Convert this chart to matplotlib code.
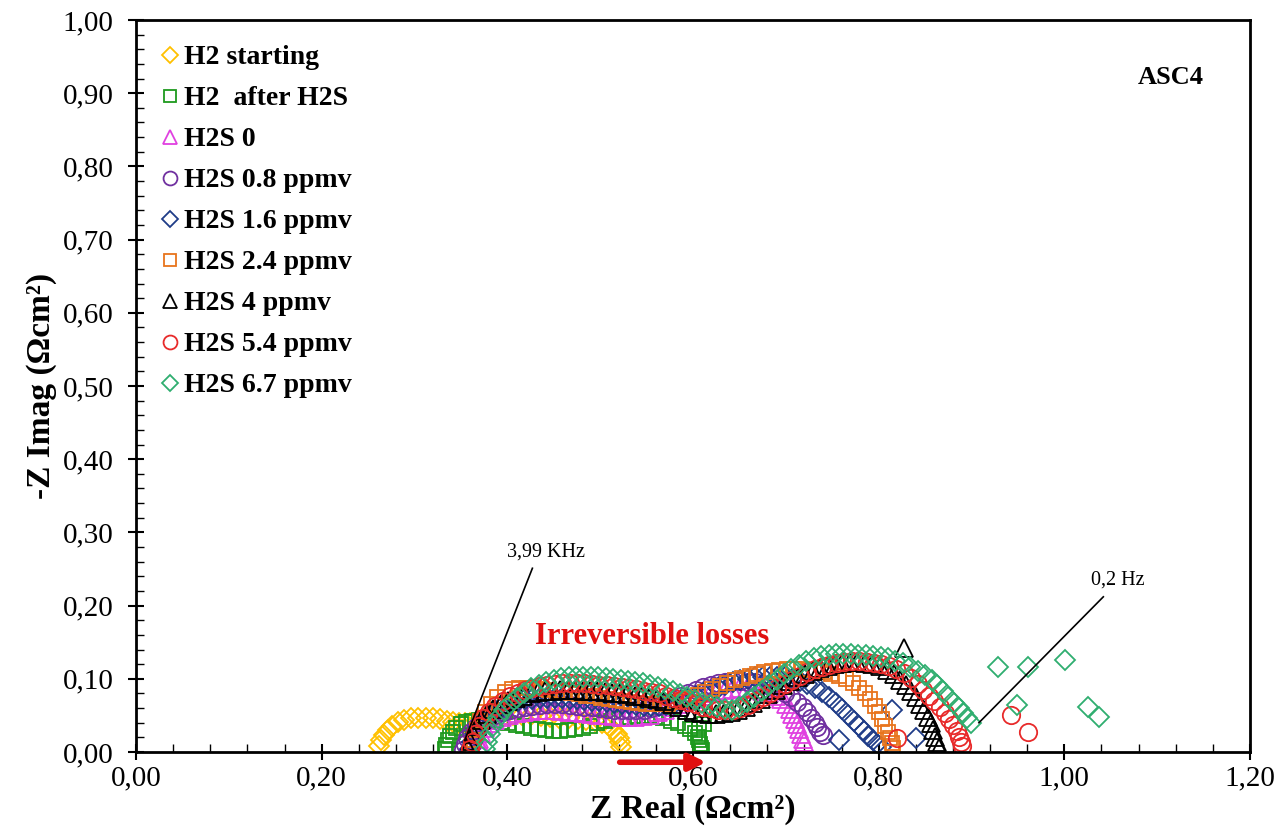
import matplotlib
matplotlib.use("Agg")
import matplotlib.pyplot as plt

plt.rcParams['font.family'] = ['Liberation Serif', 'DejaVu Serif']

# H2 starting
h2_start_x = [0.262, 0.264, 0.267, 0.271, 0.276, 0.282, 0.289, 0.296, 0.304, 0.312, 0.320, 0.328, 0.335, 0.342,
              0.348, 0.354, 0.360, 0.368, 0.377, 0.386, 0.396, 0.406, 0.416, 0.426, 0.436, 0.446, 0.456, 0.466,
              0.476, 0.485, 0.494, 0.502, 0.509, 0.514, 0.518, 0.520, 0.521, 0.522]
h2_start_y = [0.008, 0.016, 0.023, 0.030, 0.036, 0.041, 0.044, 0.046, 0.047, 0.047, 0.046, 0.045, 0.043, 0.041,
              0.040, 0.039, 0.040, 0.042, 0.045, 0.047, 0.049, 0.050, 0.050, 0.050, 0.049, 0.048, 0.047, 0.046,
              0.045, 0.044, 0.042, 0.039, 0.035, 0.030, 0.025, 0.019, 0.013, 0.007]

# H2 after H2S
h2_after_x = [0.333, 0.334, 0.336, 0.338, 0.341, 0.345, 0.350, 0.356, 0.362, 0.369, 0.377, 0.385, 0.393, 0.401,
              0.409, 0.417, 0.425, 0.433, 0.441, 0.449, 0.457, 0.465, 0.473, 0.481, 0.489, 0.497, 0.505, 0.514,
              0.523, 0.532, 0.541, 0.550, 0.559, 0.568, 0.576, 0.584, 0.591, 0.597, 0.602, 0.605, 0.607, 0.608,
              0.609, 0.610, 0.606, 0.612]
h2_after_y = [0.004, 0.010, 0.016, 0.022, 0.028, 0.033, 0.038, 0.041, 0.043, 0.044, 0.044, 0.043, 0.041, 0.039,
              0.037, 0.035, 0.033, 0.031, 0.030, 0.029, 0.029, 0.030, 0.031, 0.033, 0.036, 0.039, 0.042, 0.045,
              0.047, 0.048, 0.049, 0.049, 0.048, 0.046, 0.043, 0.040, 0.036, 0.031, 0.026, 0.021, 0.016, 0.011,
              0.006, 0.003, 0.033, 0.038]

# H2S 0
h2s_0_x = [0.373, 0.371, 0.370, 0.372, 0.376, 0.381, 0.387, 0.394, 0.402, 0.410, 0.418, 0.426, 0.434, 0.442,
           0.450, 0.458, 0.466, 0.474, 0.482, 0.490, 0.498, 0.506, 0.514, 0.522, 0.530, 0.538, 0.546, 0.554,
           0.562, 0.570, 0.578, 0.586, 0.594, 0.602, 0.610, 0.618, 0.626, 0.634, 0.642, 0.650, 0.658, 0.666,
           0.674, 0.682, 0.689, 0.695, 0.700, 0.704, 0.707, 0.710, 0.712, 0.714, 0.716, 0.718, 0.720]
h2s_0_y = [0.002, 0.010, 0.018, 0.026, 0.033, 0.039, 0.044, 0.048, 0.051, 0.053, 0.055, 0.056, 0.057, 0.057,
           0.057, 0.056, 0.055, 0.054, 0.053, 0.052, 0.051, 0.050, 0.049, 0.048, 0.048, 0.048, 0.049, 0.051,
           0.054, 0.057, 0.061, 0.065, 0.069, 0.073, 0.077, 0.080, 0.083, 0.085, 0.086, 0.087, 0.087, 0.086,
           0.084, 0.081, 0.077, 0.072, 0.066, 0.059, 0.052, 0.045, 0.038, 0.031, 0.024, 0.018, 0.013]

# H2S 0.8 ppmv
h2s_08_x = [0.352, 0.354, 0.357, 0.361, 0.366, 0.372, 0.379, 0.387, 0.395, 0.403, 0.411, 0.419, 0.427, 0.435,
            0.443, 0.451, 0.459, 0.467, 0.475, 0.483, 0.491, 0.499, 0.507, 0.515, 0.523, 0.531, 0.539, 0.547,
            0.555, 0.563, 0.571, 0.579, 0.587, 0.595, 0.603, 0.611, 0.619, 0.627, 0.635, 0.643, 0.651, 0.659,
            0.667, 0.675, 0.683, 0.691, 0.699, 0.706, 0.712, 0.718, 0.723, 0.727, 0.731, 0.734, 0.737, 0.740]
h2s_08_y = [0.003, 0.011, 0.019, 0.027, 0.034, 0.040, 0.045, 0.050, 0.054, 0.057, 0.060, 0.062, 0.063, 0.064,
            0.065, 0.065, 0.065, 0.064, 0.063, 0.062, 0.061, 0.060, 0.059, 0.058, 0.057, 0.057, 0.057, 0.058,
            0.060, 0.063, 0.067, 0.071, 0.076, 0.081, 0.085, 0.089, 0.092, 0.094, 0.096, 0.097, 0.097, 0.096,
            0.095, 0.093, 0.090, 0.086, 0.081, 0.075, 0.068, 0.061, 0.054, 0.047, 0.040, 0.034, 0.028, 0.023]

# H2S 1.6 ppmv
h2s_16_x = [0.360, 0.362, 0.365, 0.369, 0.374, 0.380, 0.387, 0.395, 0.403, 0.411, 0.419, 0.427, 0.435, 0.443,
            0.451, 0.459, 0.467, 0.475, 0.483, 0.491, 0.499, 0.507, 0.515, 0.523, 0.531, 0.539, 0.547, 0.555,
            0.563, 0.571, 0.579, 0.587, 0.595, 0.603, 0.611, 0.619, 0.627, 0.635, 0.643, 0.651, 0.659, 0.667,
            0.675, 0.683, 0.691, 0.699, 0.707, 0.715, 0.723, 0.731, 0.739, 0.747, 0.754, 0.761, 0.767, 0.773,
            0.779, 0.784, 0.789, 0.794, 0.798, 0.802, 0.757, 0.814, 0.840]
h2s_16_y = [0.004, 0.014, 0.024, 0.034, 0.043, 0.051, 0.058, 0.063, 0.067, 0.070, 0.072, 0.073, 0.074, 0.074,
            0.074, 0.074, 0.073, 0.072, 0.071, 0.070, 0.069, 0.068, 0.067, 0.066, 0.065, 0.064, 0.063, 0.063,
            0.063, 0.064, 0.066, 0.069, 0.072, 0.076, 0.080, 0.084, 0.088, 0.092, 0.095, 0.098, 0.100, 0.102,
            0.103, 0.103, 0.103, 0.102, 0.100, 0.097, 0.093, 0.088, 0.082, 0.075, 0.067, 0.059, 0.051, 0.043,
            0.036, 0.029, 0.022, 0.016, 0.011, 0.007, 0.016, 0.058, 0.019]

# H2S 2.4 ppmv
h2s_24_x = [0.362, 0.364, 0.367, 0.371, 0.376, 0.382, 0.389, 0.397, 0.405, 0.413, 0.421, 0.429, 0.437, 0.445,
            0.453, 0.461, 0.469, 0.477, 0.485, 0.493, 0.501, 0.509, 0.517, 0.525, 0.533, 0.541, 0.549, 0.557,
            0.565, 0.573, 0.581, 0.589, 0.597, 0.605, 0.613, 0.621, 0.629, 0.637, 0.645, 0.653, 0.661, 0.669,
            0.677, 0.685, 0.693, 0.701, 0.709, 0.717, 0.725, 0.733, 0.741, 0.749, 0.757, 0.765, 0.772, 0.779,
            0.785, 0.791, 0.796, 0.800, 0.804, 0.807, 0.810, 0.812, 0.814, 0.815]
h2s_24_y = [0.005, 0.017, 0.030, 0.043, 0.055, 0.066, 0.075, 0.082, 0.086, 0.088, 0.088, 0.087, 0.086, 0.085,
            0.083, 0.082, 0.080, 0.079, 0.077, 0.076, 0.074, 0.073, 0.071, 0.070, 0.068, 0.067, 0.066, 0.065,
            0.065, 0.066, 0.068, 0.071, 0.074, 0.078, 0.082, 0.086, 0.090, 0.094, 0.098, 0.101, 0.104, 0.107,
            0.109, 0.111, 0.112, 0.113, 0.113, 0.113, 0.112, 0.111, 0.109, 0.107, 0.104, 0.100, 0.094, 0.087,
            0.080, 0.072, 0.063, 0.054, 0.045, 0.036, 0.027, 0.019, 0.012, 0.006]

# H2S 4 ppmv
h2s_4_x = [0.358, 0.360, 0.363, 0.367, 0.372, 0.378, 0.385, 0.393, 0.401, 0.409, 0.417, 0.425, 0.433, 0.441,
           0.449, 0.457, 0.465, 0.473, 0.481, 0.489, 0.497, 0.505, 0.513, 0.521, 0.529, 0.537, 0.545, 0.553,
           0.561, 0.569, 0.577, 0.585, 0.593, 0.601, 0.609, 0.617, 0.625, 0.633, 0.641, 0.649, 0.657, 0.665,
           0.673, 0.681, 0.689, 0.697, 0.705, 0.713, 0.721, 0.729, 0.737, 0.745, 0.753, 0.761, 0.769, 0.777,
           0.785, 0.793, 0.801, 0.809, 0.816, 0.823, 0.829, 0.835, 0.840, 0.845, 0.849, 0.853, 0.856, 0.859,
           0.861, 0.863, 0.865, 0.827]
h2s_4_y = [0.005, 0.015, 0.025, 0.035, 0.044, 0.052, 0.059, 0.065, 0.070, 0.074, 0.077, 0.080, 0.082, 0.083,
           0.084, 0.085, 0.085, 0.085, 0.084, 0.084, 0.083, 0.082, 0.081, 0.080, 0.079, 0.077, 0.076, 0.074,
           0.072, 0.069, 0.066, 0.062, 0.058, 0.055, 0.053, 0.052, 0.052, 0.053, 0.055, 0.058, 0.062, 0.067,
           0.073, 0.079, 0.085, 0.091, 0.097, 0.102, 0.107, 0.111, 0.115, 0.118, 0.120, 0.122, 0.123, 0.123,
           0.122, 0.120, 0.117, 0.112, 0.106, 0.099, 0.091, 0.083, 0.075, 0.066, 0.057, 0.048, 0.039, 0.030,
           0.021, 0.013, 0.006, 0.142]

# H2S 5.4 ppmv
h2s_54_x = [0.360, 0.362, 0.365, 0.369, 0.374, 0.380, 0.387, 0.395, 0.403, 0.411, 0.419, 0.427, 0.435, 0.443,
            0.451, 0.459, 0.467, 0.475, 0.483, 0.491, 0.499, 0.507, 0.515, 0.523, 0.531, 0.539, 0.547, 0.555,
            0.563, 0.571, 0.579, 0.587, 0.595, 0.603, 0.611, 0.619, 0.627, 0.635, 0.643, 0.651, 0.659, 0.667,
            0.675, 0.683, 0.691, 0.699, 0.707, 0.715, 0.723, 0.731, 0.739, 0.747, 0.755, 0.763, 0.771, 0.779,
            0.787, 0.795, 0.803, 0.811, 0.819, 0.827, 0.835, 0.842, 0.848, 0.854, 0.860, 0.866, 0.871, 0.876,
            0.880, 0.884, 0.887, 0.889, 0.890, 0.820, 0.943, 0.961]
h2s_54_y = [0.004, 0.014, 0.025, 0.036, 0.046, 0.055, 0.063, 0.070, 0.076, 0.081, 0.085, 0.088, 0.090, 0.092,
            0.093, 0.094, 0.094, 0.094, 0.094, 0.093, 0.092, 0.091, 0.090, 0.089, 0.088, 0.086, 0.084, 0.082,
            0.080, 0.077, 0.074, 0.071, 0.068, 0.065, 0.062, 0.060, 0.058, 0.057, 0.058, 0.060, 0.064, 0.069,
            0.075, 0.081, 0.087, 0.093, 0.099, 0.104, 0.109, 0.113, 0.116, 0.119, 0.121, 0.123, 0.124, 0.124,
            0.123, 0.122, 0.120, 0.117, 0.113, 0.108, 0.101, 0.093, 0.085, 0.077, 0.069, 0.061, 0.053, 0.045,
            0.037, 0.029, 0.021, 0.014, 0.008, 0.019, 0.050, 0.027]

# H2S 6.7 ppmv
h2s_67_x = [0.376, 0.378, 0.381, 0.385, 0.390, 0.396, 0.403, 0.410, 0.418, 0.426, 0.434, 0.442, 0.450, 0.458,
            0.466, 0.474, 0.482, 0.490, 0.498, 0.506, 0.514, 0.522, 0.530, 0.538, 0.546, 0.554, 0.562, 0.570,
            0.578, 0.586, 0.594, 0.602, 0.610, 0.618, 0.626, 0.634, 0.642, 0.650, 0.658, 0.666, 0.674, 0.682,
            0.690, 0.698, 0.706, 0.714, 0.722, 0.730, 0.738, 0.746, 0.754, 0.762, 0.770, 0.778, 0.786, 0.794,
            0.802, 0.810, 0.818, 0.826, 0.834, 0.842, 0.850, 0.857, 0.863, 0.869, 0.875, 0.881, 0.886, 0.891,
            0.895, 0.899, 0.929, 0.961, 1.001, 0.949, 1.026, 1.037]
h2s_67_y = [0.004, 0.014, 0.025, 0.036, 0.047, 0.057, 0.066, 0.074, 0.081, 0.087, 0.092, 0.096, 0.099, 0.101,
            0.102, 0.103, 0.103, 0.103, 0.102, 0.101, 0.100, 0.099, 0.097, 0.096, 0.094, 0.092, 0.089, 0.086,
            0.083, 0.079, 0.075, 0.071, 0.067, 0.064, 0.061, 0.059, 0.058, 0.062, 0.068, 0.075, 0.083, 0.091,
            0.099, 0.106, 0.113, 0.119, 0.124, 0.128, 0.131, 0.133, 0.134, 0.134, 0.134, 0.133, 0.132, 0.131,
            0.130, 0.128, 0.125, 0.121, 0.116, 0.111, 0.105, 0.098, 0.091, 0.083, 0.075, 0.067, 0.060, 0.053,
            0.046, 0.039, 0.116, 0.116, 0.126, 0.064, 0.062, 0.048]

labels = ["H2 starting", "H2  after H2S", "H2S 0", "H2S 0.8 ppmv", "H2S 1.6 ppmv",
          "H2S 2.4 ppmv", "H2S 4 ppmv", "H2S 5.4 ppmv", "H2S 6.7 ppmv"]
colors = ["#FFC000", "#1E9A1E", "#E040E0", "#7030A0", "#1F3C88",
          "#E8741C", "#000000", "#E82A2A", "#2FAE6F"]
markers = ["D", "s", "^", "o", "D", "s", "^", "o", "D"]

xticks = [0.0, 0.2, 0.4, 0.6, 0.8, 1.0, 1.2]
xtick_labels = ["0,00", "0,20", "0,40", "0,60", "0,80", "1,00", "1,20"]
yticks = [0.0, 0.1, 0.2, 0.3, 0.4, 0.5, 0.6, 0.7, 0.8, 0.9, 1.0]
ytick_labels = ["0,00", "0,10", "0,20", "0,30", "0,40", "0,50", "0,60", "0,70", "0,80", "0,90", "1,00"]

xs = [h2_start_x, h2_after_x, h2s_0_x, h2s_08_x, h2s_16_x, h2s_24_x, h2s_4_x, h2s_54_x, h2s_67_x]
ys = [h2_start_y, h2_after_y, h2s_0_y, h2s_08_y, h2s_16_y, h2s_24_y, h2s_4_y, h2s_54_y, h2s_67_y]

fig = plt.figure(figsize=(12.88, 8.36), dpi=100)
ax = fig.add_axes([136/1288, 84/836, 1114/1288, 732/836])

for x, y, lab, c, m in zip(xs, ys, labels, colors, markers):
    ms = 10.5 if m in ("D", "s") else 12.5
    ax.plot(x, y, linestyle="none", marker=m, markersize=ms, markerfacecolor="none",
            markeredgecolor=c, markeredgewidth=1.3, label=lab)

ax.set_xlim(0, 1.2)
ax.set_ylim(0, 1.0)
ax.set_xticks(xticks)
ax.set_xticklabels(xtick_labels)
ax.set_yticks(yticks)
ax.set_yticklabels(ytick_labels)
ax.set_xticks([i * 0.04 for i in range(31)], minor=True)
ax.set_yticks([i * 0.02 for i in range(51)], minor=True)
ax.tick_params(which="major", direction="inout", length=12, width=1.5, labelsize=21)
ax.tick_params(axis="y", which="major", pad=10)
ax.tick_params(which="minor", direction="in", length=6, width=1)
for s in ax.spines.values():
    s.set_linewidth(2)

ax.set_xlabel("Z Real (Ωcm²)", fontsize=24, fontweight="bold", labelpad=2)
ax.set_ylabel("-Z Imag (Ωcm²)", fontsize=24, fontweight="bold", labelpad=4)

leg = ax.legend(loc="upper left", bbox_to_anchor=(0.0135, 0.981), borderaxespad=0,
                frameon=False, markerscale=0.8, handlelength=0.6, handletextpad=0.2,
                labelspacing=0.56, prop={"weight": "bold", "size": 20})

ax.text(1.115, 0.921, "ASC4", fontsize=19, fontweight="bold", ha="center", va="center")
ax.text(0.556, 0.158, "Irreversible losses", fontsize=22, fontweight="bold",
        color="#E01010", ha="center", va="center")

ax.plot([0.427, 0.354], [0.251, 0.016], color="black", lw=1.2)
ax.text(0.442, 0.273, "3,99 KHz", fontsize=14.5, ha="center", va="center")
ax.plot([0.908, 1.042], [0.040, 0.212], color="black", lw=1.2)
ax.text(1.058, 0.235, "0,2 Hz", fontsize=14.5, ha="center", va="center")

ax.annotate("", xy=(0.617, -0.014), xytext=(0.518, -0.014),
            arrowprops=dict(arrowstyle="-|>", color="#E01010", lw=4, mutation_scale=25),
            annotation_clip=False)

fig.savefig("out.png", dpi=100)
